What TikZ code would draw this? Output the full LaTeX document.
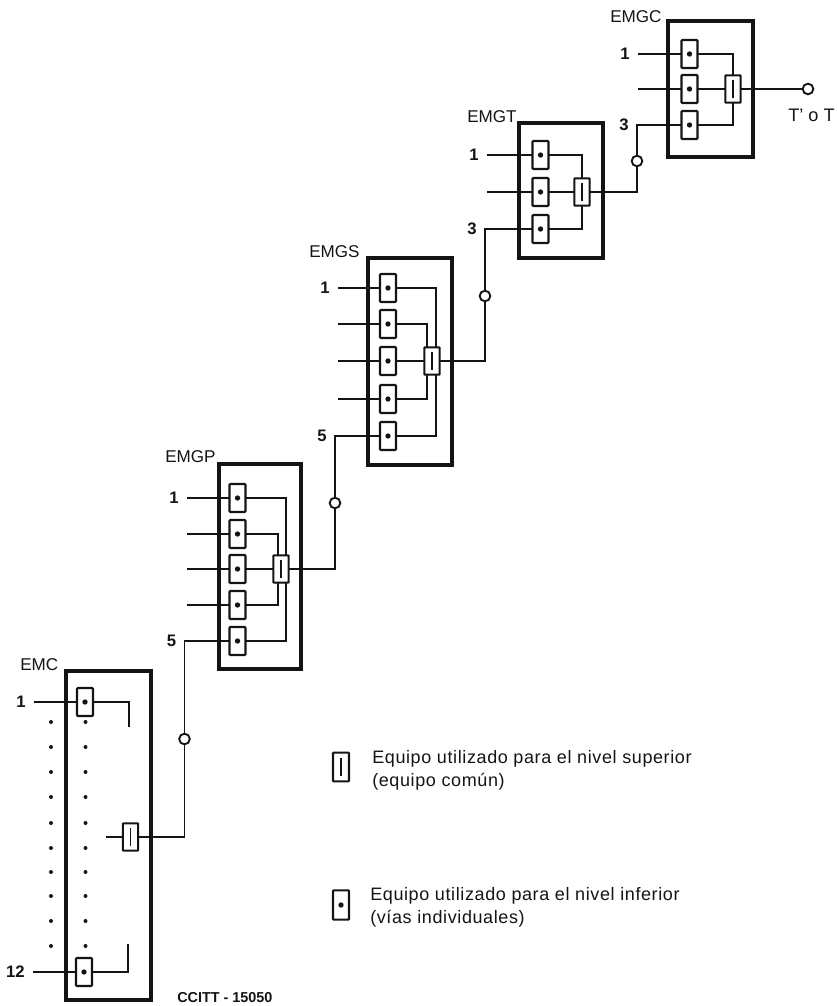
\documentclass[tikz,border=0pt]{standalone}
\usepackage{fontspec}
\setmainfont{Liberation Sans}
\usetikzlibrary{positioning}
\definecolor{ccink}{HTML}{141414}
\tikzset{
  frame/.style  ={draw=ccink,line width=2.3pt,inner sep=0pt,outer sep=0pt},
  unit/.style   ={draw=ccink,line width=1.6pt,fill=white,rounded corners=0.6pt,inner sep=0pt,outer sep=0pt,
                  minimum width=12pt,minimum height=21pt,
                  path picture={\fill[ccink] (path picture bounding box.center) circle (2pt);}},
  common/.style ={unit,minimum width=11.5pt,minimum height=20.5pt,
                  path picture={\draw[ccink,line width=0.9pt] ([yshift=6.5pt]path picture bounding box.center) -- ([yshift=-6.5pt]path picture bounding box.center);}},
  wire/.style   ={draw=ccink,line width=0.9pt},
  ring/.style   ={circle,draw=ccink,line width=1.4pt,fill=white,inner sep=0pt,outer sep=0pt,minimum size=8pt},
  spot/.style   ={circle,fill=ccink,inner sep=0pt,minimum size=3pt},
  lbl/.style    ={font=\fontsize{12.8}{14}\selectfont,text=ccink,inner sep=0pt,anchor=west},
  num/.style    ={font=\fontsize{12.5}{14}\selectfont\bfseries,text=ccink,inner sep=0pt,inner xsep=6pt,anchor=east},
  note/.style   ={font=\fontsize{13.5}{17.2}\selectfont\addfontfeature{LetterSpace=3.4},text=ccink,inner sep=0pt,anchor=north west,align=left},
}
\begin{document}
\begin{tikzpicture}[x=0.75pt,y=-0.75pt]
  \useasboundingbox (0,0) rectangle (837,1006);

  % frames
  \node[frame,minimum width=63.75pt,minimum height=246.75pt] (cf) at (108.5,835.5) {};
  \node[frame,minimum width=61.5pt,minimum height=153.75pt] (pf) at (260,566.5) {};
  \node[frame,minimum width=63pt,minimum height=155.25pt] (sf) at (410,361.5) {};
  \node[frame,minimum width=63pt,minimum height=101.25pt] (tf) at (561,190.5) {};
  \node[frame,minimum width=63.75pt,minimum height=102pt] (gf) at (710.5,89) {};

  % EMC
  \node[lbl] (cl) at (20,665) {EMC};
  \node[unit] (cu1) at (85,702) {};
  \node[unit] (cu12) at (84,972) {};
  \node[common] (cc) at (130.5,837) {};
  \node[num] (cn1) at (34,702) {1};
  \node[num] (cn12) at (33,972) {12};
  \coordinate (ce1) at (129,727);
  \coordinate (ce12) at (128,944);
  \coordinate (cin) at (106,837);
  \foreach \yy [count=\i] in {722,747,772,797,823,848,872,896,921,946} {
    \node[spot] (dl\i) at (51,\yy) {};
    \node[spot] (dr\i) at (85.5,\yy) {};
  }
  \draw[wire] (cn1.east) -- (cu1.west);
  \draw[wire] (cn12.east) -- (cu12.west);
  \draw[wire] (cu1.east) -| (ce1);
  \draw[wire] (cu12.east) -| (ce12);
  \draw[wire] (cin) -- (cc.west);

  % EMGP
  \node[lbl] (pl) at (165,457) {EMGP};
  \node[unit] (pu1) at (237.5,498) {};
  \node[unit] (pu2) at (237.5,534) {};
  \node[unit] (pu3) at (237.5,569) {};
  \node[unit] (pu4) at (237.5,605) {};
  \node[unit] (pu5) at (237.5,641) {};
  \node[common] (pc) at (281,569) {};
  \node[num] (pn1) at (187,498) {1};
  \node[num] (pn5) at (184.5,641) {5};
  \coordinate (pin2) at (187,534);
  \coordinate (pin3) at (187,569);
  \coordinate (pin4) at (187,605);
  \draw[wire] (pn1.east) -- (pu1.west);
  \draw[wire] (pin2) -- (pu2.west);
  \draw[wire] (pin3) -- (pu3.west);
  \draw[wire] (pin4) -- (pu4.west);
  \draw[wire] (pu1.east) -| ([xshift=3.75pt]pc.north);
  \draw[wire] (pu2.east) -| ([xshift=-2.25pt]pc.north);
  \draw[wire] (pu3.east) -- (pc.west);
  \draw[wire] (pu4.east) -| ([xshift=-2.25pt]pc.south);
  \draw[wire] (pu5.east) -| ([xshift=3.75pt]pc.south);

  % EMGS
  \node[lbl] (sl) at (309,252) {EMGS};
  \node[unit] (su1) at (388,288) {};
  \node[unit] (su2) at (388,324) {};
  \node[unit] (su3) at (388,361) {};
  \node[unit] (su4) at (388,399) {};
  \node[unit] (su5) at (388,436) {};
  \node[common] (sc) at (432,361) {};
  \node[num] (sn1) at (338,288) {1};
  \node[num] (sn5) at (335,436) {5};
  \coordinate (sin2) at (338,324);
  \coordinate (sin3) at (338,361);
  \coordinate (sin4) at (338,399);
  \draw[wire] (sn1.east) -- (su1.west);
  \draw[wire] (sin2) -- (su2.west);
  \draw[wire] (sin3) -- (su3.west);
  \draw[wire] (sin4) -- (su4.west);
  \draw[wire] (su1.east) -| ([xshift=3pt]sc.north);
  \draw[wire] (su2.east) -| ([xshift=-3.75pt]sc.north);
  \draw[wire] (su3.east) -- (sc.west);
  \draw[wire] (su4.east) -| ([xshift=-3.75pt]sc.south);
  \draw[wire] (su5.east) -| ([xshift=3pt]sc.south);

  % EMGT
  \node[lbl] (tl) at (467,117) {EMGT};
  \node[unit] (tu1) at (540.5,155) {};
  \node[unit] (tu2) at (540.5,192) {};
  \node[unit] (tu3) at (540.5,229) {};
  \node[common] (tc) at (582,192) {};
  \node[num] (tn1) at (487,155) {1};
  \node[num] (tn3) at (485,229) {3};
  \coordinate (tin2) at (487,192);
  \draw[wire] (tn1.east) -- (tu1.west);
  \draw[wire] (tin2) -- (tu2.west);
  \draw[wire] (tu1.east) -| (tc.north);
  \draw[wire] (tu2.east) -- (tc.west);
  \draw[wire] (tu3.east) -| (tc.south);

  % EMGC
  \node[lbl] (gl) at (610,17) {EMGC};
  \node[unit] (gu1) at (689.5,54) {};
  \node[unit] (gu2) at (689.5,89) {};
  \node[unit] (gu3) at (689.5,125) {};
  \node[common] (gc) at (733,89) {};
  \node[num] (gn1) at (638,54) {1};
  \node[num] (gn3) at (637,125) {3};
  \coordinate (gin2) at (638,89);
  \draw[wire] (gn1.east) -- (gu1.west);
  \draw[wire] (gin2) -- (gu2.west);
  \draw[wire] (gu1.east) -| (gc.north);
  \draw[wire] (gu2.east) -- (gc.west);
  \draw[wire] (gu3.east) -| (gc.south);

  % links between the levels
  \node[ring] (r1) at (184.5,739) {};
  \node[ring] (r2) at (335,503) {};
  \node[ring] (r3) at (485,296) {};
  \node[ring] (r4) at (637,161) {};
  \node[ring] (r5) at (808,89) {};
  \draw[wire] (cc.east) -| (r1.south);
  \draw[wire] (r1.north) |- (pu5.west);
  \draw[wire] (pc.east) -| (r2.south);
  \draw[wire] (r2.north) |- (su5.west);
  \draw[wire] (sc.east) -| (r3.south);
  \draw[wire] (r3.north) |- (tu3.west);
  \draw[wire] (tc.east) -| (r4.south);
  \draw[wire] (r4.north) |- (gu3.west);
  \draw[wire] (gc.east) -- (r5.west);
  \node[lbl,font=\fontsize{13.6}{14}\selectfont] (out) at (788,115) {T' o T};

  % legend
  \node[common,minimum width=12pt,minimum height=21.5pt] (kc) at (341,767) {};
  \node[unit,minimum height=22pt] (ku) at (341,905) {};
  \node[note] (kct) at (372,750) {Equipo utilizado para el nivel superior\\(equipo común)};
  \node[note] (kut) at (370,887) {Equipo utilizado para el nivel inferior\\(vías individuales)};
  \node[lbl,font=\fontsize{10.8}{12}\selectfont\bfseries] (ref) at (177,998) {CCITT - 15050};
\end{tikzpicture}
\end{document}
